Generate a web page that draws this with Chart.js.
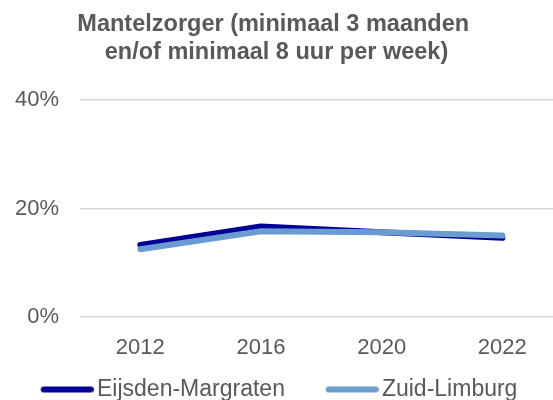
<!DOCTYPE html>
<html><head><meta charset="utf-8">
<script src="https://cdn.jsdelivr.net/npm/chart.js@4/dist/chart.umd.min.js"></script>
<style>html,body{margin:0;padding:0;background:#fff}#wrap{width:553px;height:400px}</style>
</head><body><div id="wrap"><canvas id="c" width="553" height="400"></canvas></div>
<script>
const categories = ['2012', '2016', '2020', '2022'];
const eijsdenMargraten = [13.3, 16.7, 15.6, 14.6];
const zuidLimburg = [12.5, 15.8, 15.6, 15.0];
const seriesNames = ['Eijsden-Margraten', 'Zuid-Limburg'];
const seriesColors = ['#000096', '#6A9BD1'];
const titleLines = ['Mantelzorger (minimaal 3 maanden ', 'en/of minimaal 8 uur per week)'];
const yTicks = [0, 20, 40];

const FONT = "'Liberation Sans', Arial, sans-serif";
const GREY = '#595959';

// legend marker: a thick rounded line, drawn at the right end of a transparent canvas
function legendLine(color) {
  const W = 85, H = 8, L = 53, T = 6;
  const c = document.createElement('canvas');
  c.width = W; c.height = H;
  const g = c.getContext('2d');
  g.strokeStyle = color; g.lineWidth = T; g.lineCap = 'round';
  g.beginPath(); g.moveTo(W - L + T / 2, H / 2); g.lineTo(W - T / 2, H / 2); g.stroke();
  return c;
}

const toPoints = arr => arr.map((v, i) => ({x: i, y: v}));

new Chart(document.getElementById('c'), {
  type: 'line',
  data: {
    datasets: [
      {label: seriesNames[0], data: toPoints(eijsdenMargraten), borderColor: seriesColors[0], backgroundColor: seriesColors[0],
       borderWidth: 6, pointRadius: 0, borderCapStyle: 'round', borderJoinStyle: 'round', order: 1},
      {label: seriesNames[1], data: toPoints(zuidLimburg), borderColor: seriesColors[1], backgroundColor: seriesColors[1],
       borderWidth: 6, pointRadius: 0, borderCapStyle: 'round', borderJoinStyle: 'round', order: 0}
    ]
  },
  options: {
    responsive: false, animation: false,
    layout: {padding: {left: 0, right: 0, top: 0, bottom: -11}},
    plugins: {
      title: {display: true, text: titleLines, color: GREY,
              font: {family: FONT, size: 23.5, weight: 'bold', lineHeight: 1.17},
              padding: {top: 11, bottom: 34}},
      legend: {position: 'bottom', align: 'start',
               labels: {usePointStyle: true, pointStyleWidth: 68.5, color: GREY,
                        font: {family: FONT, size: 23}, padding: 17,
                        generateLabels: chart => {
                          const items = Chart.defaults.plugins.legend.labels.generateLabels(chart);
                          items.forEach(it => { it.pointStyle = legendLine(seriesColors[it.datasetIndex]); });
                          return items;
                        },
                        sort: (a, b) => a.datasetIndex - b.datasetIndex}},
      tooltip: {enabled: false}
    },
    scales: {
      x: {type: 'linear', min: -0.5, max: 3.42,
          afterBuildTicks: ax => { ax.ticks = categories.map((_, i) => ({value: i})); },
          afterFit: ax => { ax.height = 44; },
          grid: {display: false, drawTicks: false}, border: {display: false},
          ticks: {color: GREY, font: {family: FONT, size: 22}, padding: 18, autoSkip: false,
                  callback: v => categories[v]}},
      y: {min: 0, max: 40, afterBuildTicks: ax => { ax.ticks = yTicks.map(v => ({value: v})); },
          afterFit: ax => { ax.width = 80; },
          grid: {color: '#D9D9D9', lineWidth: 1.5, drawTicks: false}, border: {display: false},
          ticks: {color: GREY, font: {family: FONT, size: 22}, padding: 21, callback: v => v + '%'}}
    }
  }
});
</script></body></html>
